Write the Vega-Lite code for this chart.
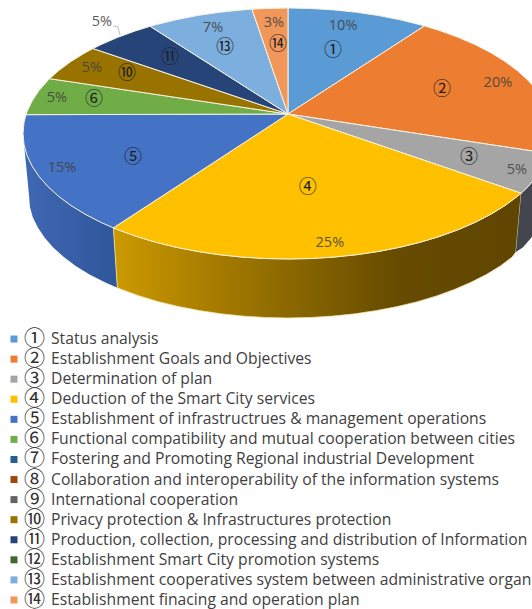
{
"$schema":"https://vega.github.io/schema/vega-lite/v6.json",
"padding":0,
"spacing":0,
"autosize":{"type":"pad"},
"background":"white",
"config":{"view":{"stroke":null},"concat":{"spacing":0}},
"datasets":{
"faces":[
{"slice":1,"step":0,"u":0,"v":0.155},{"slice":1,"step":1,"u":0,"v":1},{"slice":1,"step":2,"u":0.0872,"v":0.9962},{"slice":1,"step":3,"u":0.1736,"v":0.9848},{"slice":1,"step":4,"u":0.2588,"v":0.9659},{"slice":1,"step":5,"u":0.342,"v":0.9397},{"slice":1,"step":6,"u":0.4226,"v":0.9063},{"slice":1,"step":7,"u":0.5,"v":0.866},{"slice":1,"step":8,"u":0.515,"v":0.857},{"slice":1,"step":9,"u":0,"v":0.155},
{"slice":2,"step":0,"u":0,"v":0.155},{"slice":2,"step":1,"u":0.515,"v":0.857},{"slice":2,"step":2,"u":0.5736,"v":0.8192},{"slice":2,"step":3,"u":0.6428,"v":0.766},{"slice":2,"step":4,"u":0.7071,"v":0.7071},{"slice":2,"step":5,"u":0.766,"v":0.6428},{"slice":2,"step":6,"u":0.8192,"v":0.5736},{"slice":2,"step":7,"u":0.866,"v":0.5},{"slice":2,"step":8,"u":0.9063,"v":0.4226},{"slice":2,"step":9,"u":0.9397,"v":0.342},{"slice":2,"step":10,"u":0.9659,"v":0.2588},{"slice":2,"step":11,"u":0.9848,"v":0.1736},{"slice":2,"step":12,"u":0.9962,"v":0.0872},{"slice":2,"step":13,"u":1,"v":0},{"slice":2,"step":14,"u":0.9962,"v":-0.0872},{"slice":2,"step":15,"u":0.987,"v":-0.16},{"slice":2,"step":16,"u":0,"v":0.155},
{"slice":3,"step":0,"u":0,"v":0.155},{"slice":3,"step":1,"u":0.987,"v":-0.16},{"slice":3,"step":2,"u":0.9848,"v":-0.1736},{"slice":3,"step":3,"u":0.9659,"v":-0.2588},{"slice":3,"step":4,"u":0.9397,"v":-0.342},{"slice":3,"step":5,"u":0.9063,"v":-0.4226},{"slice":3,"step":6,"u":0.88,"v":-0.476},{"slice":3,"step":7,"u":0,"v":0.155},
{"slice":4,"step":0,"u":0,"v":0.155},{"slice":4,"step":1,"u":0.88,"v":-0.476},{"slice":4,"step":2,"u":0.866,"v":-0.5},{"slice":4,"step":3,"u":0.8192,"v":-0.5736},{"slice":4,"step":4,"u":0.766,"v":-0.6428},{"slice":4,"step":5,"u":0.7071,"v":-0.7071},{"slice":4,"step":6,"u":0.6428,"v":-0.766},{"slice":4,"step":7,"u":0.5736,"v":-0.8192},{"slice":4,"step":8,"u":0.5,"v":-0.866},{"slice":4,"step":9,"u":0.4226,"v":-0.9063},{"slice":4,"step":10,"u":0.342,"v":-0.9397},{"slice":4,"step":11,"u":0.2588,"v":-0.9659},{"slice":4,"step":12,"u":0.1736,"v":-0.9848},{"slice":4,"step":13,"u":0.0872,"v":-0.9962},{"slice":4,"step":14,"u":0,"v":-1},{"slice":4,"step":15,"u":-0.0872,"v":-0.9962},{"slice":4,"step":16,"u":-0.1736,"v":-0.9848},{"slice":4,"step":17,"u":-0.2588,"v":-0.9659},{"slice":4,"step":18,"u":-0.342,"v":-0.9397},{"slice":4,"step":19,"u":-0.4226,"v":-0.9063},{"slice":4,"step":20,"u":-0.5,"v":-0.866},{"slice":4,"step":21,"u":-0.5736,"v":-0.8192},{"slice":4,"step":22,"u":-0.6428,"v":-0.766},{"slice":4,"step":23,"u":-0.659,"v":-0.752},{"slice":4,"step":24,"u":0,"v":0.155},
{"slice":5,"step":0,"u":0,"v":0.155},{"slice":5,"step":1,"u":-0.659,"v":-0.752},{"slice":5,"step":2,"u":-0.7071,"v":-0.7071},{"slice":5,"step":3,"u":-0.766,"v":-0.6428},{"slice":5,"step":4,"u":-0.8192,"v":-0.5736},{"slice":5,"step":5,"u":-0.866,"v":-0.5},{"slice":5,"step":6,"u":-0.9063,"v":-0.4226},{"slice":5,"step":7,"u":-0.9397,"v":-0.342},{"slice":5,"step":8,"u":-0.9659,"v":-0.2588},{"slice":5,"step":9,"u":-0.9848,"v":-0.1736},{"slice":5,"step":10,"u":-0.9962,"v":-0.0872},{"slice":5,"step":11,"u":-1,"v":0},{"slice":5,"step":12,"u":-0.9962,"v":0.0872},{"slice":5,"step":13,"u":-0.989,"v":0.15},{"slice":5,"step":14,"u":0,"v":0.155},
{"slice":6,"step":0,"u":0,"v":0.155},{"slice":6,"step":1,"u":-0.989,"v":0.15},{"slice":6,"step":2,"u":-0.9848,"v":0.1736},{"slice":6,"step":3,"u":-0.9659,"v":0.2588},{"slice":6,"step":4,"u":-0.9397,"v":0.342},{"slice":6,"step":5,"u":-0.9063,"v":0.4226},{"slice":6,"step":6,"u":-0.9,"v":0.437},{"slice":6,"step":7,"u":0,"v":0.155},
{"slice":10,"step":0,"u":0,"v":0.155},{"slice":10,"step":1,"u":-0.9,"v":0.437},{"slice":10,"step":2,"u":-0.866,"v":0.5},{"slice":10,"step":3,"u":-0.8192,"v":0.5736},{"slice":10,"step":4,"u":-0.766,"v":0.6428},{"slice":10,"step":5,"u":-0.736,"v":0.677},{"slice":10,"step":6,"u":0,"v":0.155},
{"slice":11,"step":0,"u":0,"v":0.155},{"slice":11,"step":1,"u":-0.736,"v":0.677},{"slice":11,"step":2,"u":-0.7071,"v":0.7071},{"slice":11,"step":3,"u":-0.6428,"v":0.766},{"slice":11,"step":4,"u":-0.5736,"v":0.8192},{"slice":11,"step":5,"u":-0.52,"v":0.854},{"slice":11,"step":6,"u":0,"v":0.155},
{"slice":13,"step":0,"u":0,"v":0.155},{"slice":13,"step":1,"u":-0.52,"v":0.854},{"slice":13,"step":2,"u":-0.5,"v":0.866},{"slice":13,"step":3,"u":-0.4226,"v":0.9063},{"slice":13,"step":4,"u":-0.342,"v":0.9397},{"slice":13,"step":5,"u":-0.2588,"v":0.9659},{"slice":13,"step":6,"u":-0.1736,"v":0.9848},{"slice":13,"step":7,"u":-0.136,"v":0.991},{"slice":13,"step":8,"u":0,"v":0.155},
{"slice":14,"step":0,"u":0,"v":0.155},{"slice":14,"step":1,"u":-0.136,"v":0.991},{"slice":14,"step":2,"u":-0.0872,"v":0.9962},{"slice":14,"step":3,"u":0,"v":1},{"slice":14,"step":4,"u":0,"v":0.155}
],
"wallBlue":[
{"step":0,"u":-0.659,"v":-0.752},{"step":1,"u":-0.7071,"v":-0.7071},{"step":2,"u":-0.766,"v":-0.6428},{"step":3,"u":-0.8192,"v":-0.5736},{"step":4,"u":-0.866,"v":-0.5},{"step":5,"u":-0.9063,"v":-0.4226},{"step":6,"u":-0.9397,"v":-0.342},{"step":7,"u":-0.9659,"v":-0.2588},{"step":8,"u":-0.9848,"v":-0.1736},{"step":9,"u":-0.9962,"v":-0.0872},{"step":10,"u":-1,"v":0},
{"step":11,"u":-0.977,"v":-0.498},{"step":12,"u":-0.974,"v":-0.583},{"step":13,"u":-0.963,"v":-0.667},{"step":14,"u":-0.944,"v":-0.75},{"step":15,"u":-0.918,"v":-0.83},{"step":16,"u":-0.886,"v":-0.909},{"step":17,"u":-0.846,"v":-0.984},{"step":18,"u":-0.801,"v":-1.056},{"step":19,"u":-0.749,"v":-1.123},{"step":20,"u":-0.691,"v":-1.185},{"step":21,"u":-0.644,"v":-1.229},{"step":22,"u":-0.659,"v":-0.752}
],
"wallYellow":[
{"step":0,"u":-0.659,"v":-0.752},{"step":1,"u":-0.6428,"v":-0.766},{"step":2,"u":-0.5736,"v":-0.8192},{"step":3,"u":-0.5,"v":-0.866},{"step":4,"u":-0.4226,"v":-0.9063},{"step":5,"u":-0.342,"v":-0.9397},{"step":6,"u":-0.2588,"v":-0.9659},{"step":7,"u":-0.1736,"v":-0.9848},{"step":8,"u":-0.0872,"v":-0.9962},{"step":9,"u":0,"v":-1},{"step":10,"u":0.0872,"v":-0.9962},{"step":11,"u":0.1736,"v":-0.9848},{"step":12,"u":0.2588,"v":-0.9659},{"step":13,"u":0.342,"v":-0.9397},{"step":14,"u":0.4226,"v":-0.9063},{"step":15,"u":0.5,"v":-0.866},{"step":16,"u":0.5736,"v":-0.8192},{"step":17,"u":0.6428,"v":-0.766},{"step":18,"u":0.7071,"v":-0.7071},{"step":19,"u":0.766,"v":-0.6428},{"step":20,"u":0.8192,"v":-0.5736},{"step":21,"u":0.866,"v":-0.5},{"step":22,"u":0.88,"v":-0.476},
{"step":23,"u":0.86,"v":-0.945},{"step":24,"u":0.846,"v":-0.984},{"step":25,"u":0.801,"v":-1.056},{"step":26,"u":0.749,"v":-1.123},{"step":27,"u":0.691,"v":-1.185},{"step":28,"u":0.628,"v":-1.243},{"step":29,"u":0.561,"v":-1.294},{"step":30,"u":0.489,"v":-1.34},{"step":31,"u":0.413,"v":-1.379},{"step":32,"u":0.334,"v":-1.411},{"step":33,"u":0.253,"v":-1.437},{"step":34,"u":0.17,"v":-1.455},{"step":35,"u":0.085,"v":-1.466},{"step":36,"u":0,"v":-1.47},{"step":37,"u":-0.085,"v":-1.466},{"step":38,"u":-0.17,"v":-1.455},{"step":39,"u":-0.253,"v":-1.437},{"step":40,"u":-0.334,"v":-1.411},{"step":41,"u":-0.413,"v":-1.379},{"step":42,"u":-0.489,"v":-1.34},{"step":43,"u":-0.561,"v":-1.294},{"step":44,"u":-0.628,"v":-1.243},{"step":45,"u":-0.644,"v":-1.229},{"step":46,"u":-0.659,"v":-0.752}
],
"wallGray":[
{"step":0,"u":0.88,"v":-0.476},{"step":1,"u":0.9063,"v":-0.4226},{"step":2,"u":0.9397,"v":-0.342},{"step":3,"u":0.9659,"v":-0.2588},{"step":4,"u":0.9848,"v":-0.1736},{"step":5,"u":0.9962,"v":-0.0872},{"step":6,"u":1,"v":0},
{"step":7,"u":0.977,"v":-0.498},{"step":8,"u":0.974,"v":-0.583},{"step":9,"u":0.963,"v":-0.667},{"step":10,"u":0.944,"v":-0.75},{"step":11,"u":0.918,"v":-0.83},{"step":12,"u":0.886,"v":-0.909},{"step":13,"u":0.86,"v":-0.945},{"step":14,"u":0.88,"v":-0.476}
],
"leader":[
{"step":0,"u":-0.66,"v":0.857},{"step":1,"u":-0.642,"v":0.849},{"step":2,"u":-0.634,"v":0.785}
],
"shares":[
{"id":1,"share":0.10,"u":0.208,"v":0.857},
{"id":2,"share":0.20,"u":0.792,"v":0.402},
{"id":3,"share":0.05,"u":0.864,"v":-0.291},
{"id":4,"share":0.25,"u":0.158,"v":-0.873},
{"id":5,"share":0.15,"u":-0.853,"v":-0.275},
{"id":6,"share":0.05,"u":-0.872,"v":0.283},
{"id":10,"share":0.05,"u":-0.74,"v":0.522},
{"id":11,"share":0.05,"u":-0.702,"v":0.888},
{"id":13,"share":0.07,"u":-0.283,"v":0.841},
{"id":14,"share":0.03,"u":-0.053,"v":0.88}
],
"badges":[
{"glyph":"①","u":0.17,"v":0.657},
{"glyph":"②","u":0.581,"v":0.347},
{"glyph":"③","u":0.683,"v":-0.195},
{"glyph":"④","u":0.075,"v":-0.434},
{"glyph":"⑤","u":-0.585,"v":-0.195},
{"glyph":"⑥","u":-0.732,"v":0.267},
{"glyph":"⑩","u":-0.608,"v":0.474},
{"glyph":"⑪","u":-0.445,"v":0.602},
{"glyph":"⑬","u":-0.238,"v":0.681},
{"glyph":"⑭","u":-0.038,"v":0.705}
],
"steps":[
{"id":1,"glyph":"①","name":"Status analysis"},
{"id":2,"glyph":"②","name":"Establishment Goals and Objectives"},
{"id":3,"glyph":"③","name":"Determination of plan"},
{"id":4,"glyph":"④","name":"Deduction of the Smart City services"},
{"id":5,"glyph":"⑤","name":"Establishment of infrastructrues & management operations"},
{"id":6,"glyph":"⑥","name":"Functional compatibility and mutual cooperation between cities"},
{"id":7,"glyph":"⑦","name":"Fostering and Promoting Regional industrial Development"},
{"id":8,"glyph":"⑧","name":"Collaboration and interoperability of the information systems"},
{"id":9,"glyph":"⑨","name":"International cooperation"},
{"id":10,"glyph":"⑩","name":"Privacy protection & Infrastructures protection"},
{"id":11,"glyph":"⑪","name":"Production, collection, processing and distribution of Information"},
{"id":12,"glyph":"⑫","name":"Establishment Smart City promotion systems"},
{"id":13,"glyph":"⑬","name":"Establishment cooperatives system between administrative organ"},
{"id":14,"glyph":"⑭","name":"Establishment finacing and operation plan"}
]
},
"vconcat":[
{
"width":532,
"height":328,
"encoding":{
"x":{"field":"u","type":"quantitative","axis":null,"scale":{"domain":[-1.0868,0.9208],"nice":false,"zero":false}},
"y":{"field":"v","type":"quantitative","axis":null,"scale":{"domain":[-1.5498,1.0637],"nice":false,"zero":false}}
},
"layer":[
{"data":{"name":"wallBlue"},
 "mark":{"type":"line","clip":true,"strokeWidth":0,"fill":{"gradient":"linear","x1":0,"y1":0,"x2":1,"y2":0,"stops":[{"offset":0,"color":"#3f68b3"},{"offset":1,"color":"#30569b"}]}},
 "encoding":{"order":{"field":"step","type":"quantitative"}}},
{"data":{"name":"wallYellow"},
 "mark":{"type":"line","clip":true,"stroke":"#f3e2a8","strokeWidth":0.8,"fill":{"gradient":"linear","x1":0,"y1":0,"x2":1,"y2":0,"stops":[{"offset":0,"color":"#cc9900"},{"offset":0.4,"color":"#8f6b00"},{"offset":0.7,"color":"#664b00"},{"offset":1,"color":"#5f4500"}]}},
 "encoding":{"order":{"field":"step","type":"quantitative"}}},
{"data":{"name":"wallGray"},
 "mark":{"type":"line","clip":true,"strokeWidth":0,"fill":"#44464f"},
 "encoding":{"order":{"field":"step","type":"quantitative"}}},
{"data":{"name":"faces"},
 "mark":{"type":"line","clip":true,"stroke":"#f7f3e3","strokeWidth":1,"strokeJoin":"round"},
 "encoding":{
  "order":{"field":"step","type":"quantitative"},
  "fill":{"field":"slice","type":"nominal","legend":null,"scale":{"domain":[1,2,3,4,5,6,7,8,9,10,11,12,13,14],"range":["#5b9bd5","#ed7d31","#a5a5a5","#ffc000","#4472c4","#70ad47","#255e91","#9e480e","#636363","#997300","#264478","#43682b","#7cafdd","#f1975a"]}}
 }},
{"data":{"name":"leader"},
 "mark":{"type":"line","stroke":"#bdbdbd","strokeWidth":1},
 "encoding":{"order":{"field":"step","type":"quantitative"}}},
{"data":{"name":"shares"},
 "mark":{"type":"text","font":"Open Sans","fontSize":14.5,"fill":"#404040","clip":true,"opacity":0.85},
 "encoding":{"text":{"field":"share","type":"quantitative","format":".0%"}}},
{"data":{"name":"badges"},
 "mark":{"type":"text","font":"Noto Sans CJK KR","fontSize":18,"fill":"#202020","clip":true},
 "encoding":{"text":{"field":"glyph","type":"nominal"}}}
]
},
{
"width":532,
"height":281,
"data":{"name":"steps"},
"encoding":{
"y":{"field":"id","type":"ordinal","axis":null,"sort":"ascending","scale":{"type":"point","padding":0.5}}
},
"layer":[
{"mark":{"type":"point","shape":"square","filled":true,"size":49,"opacity":1},
 "encoding":{
  "x":{"datum":0.0263,"type":"quantitative","axis":null,"scale":{"domain":[0,1],"nice":false}},
  "color":{"field":"id","type":"nominal","legend":null,"scale":{"domain":[1,2,3,4,5,6,7,8,9,10,11,12,13,14],"range":["#5b9bd5","#ed7d31","#a5a5a5","#ffc000","#4472c4","#70ad47","#255e91","#9e480e","#636363","#997300","#264478","#43682b","#7cafdd","#f1975a"]}}
 }},
{"mark":{"type":"text","font":"Noto Sans CJK KR","fontSize":21,"fill":"#303030"},
 "encoding":{
  "x":{"datum":0.0648,"type":"quantitative","axis":null,"scale":{"domain":[0,1],"nice":false}},
  "text":{"field":"glyph","type":"nominal"}
 }},
{"mark":{"type":"text","font":"Open Sans","fontSize":15.7,"fill":"#404040","align":"left","clip":true},
 "encoding":{
  "x":{"datum":0.0959,"type":"quantitative","axis":null,"scale":{"domain":[0,1],"nice":false}},
  "text":{"field":"name","type":"nominal"}
 }}
]
}
]
}
